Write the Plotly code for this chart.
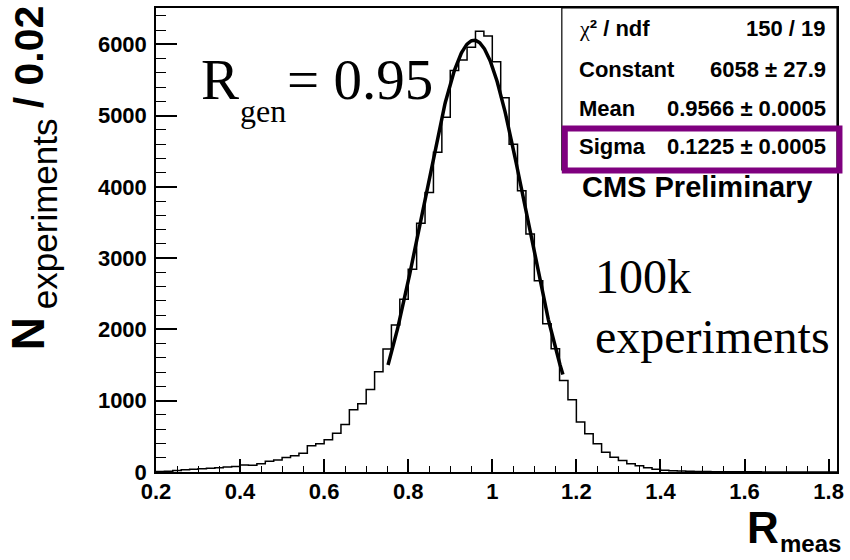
import numpy as np
import plotly.graph_objects as go

# ---------------- data ----------------
bin_start = 0.20
bin_width = 0.02
counts = [8, 12, 22, 32, 37, 46, 52, 60, 70, 76,
          97, 94, 117, 150, 170, 202, 228, 262, 370, 396,
          452, 542, 667, 873, 957, 1159, 1407, 1725, 2062, 2424,
          2846, 3490, 3923, 4485, 4977, 5632, 5782, 5960, 6184, 6118,
          5755, 5252, 4600, 3947, 3338, 2683, 2081, 1730, 1285, 1014,
          700, 536, 396, 278, 208, 161, 115, 87, 59, 38,
          24, 17, 13, 10, 8, 6, 5, 4, 3, 3,
          2, 2, 1, 1, 1, 0, 1, 0, 0, 0, 0]

fit_constant = 6058
fit_mean = 0.9566
fit_sigma = 0.1225
fit_range = [0.752, 1.168]

x_tickvals = [0.2, 0.4, 0.6, 0.8, 1.0, 1.2, 1.4, 1.6, 1.8]
x_ticktext = ["0.2", "0.4", "0.6", "0.8", "1", "1.2", "1.4", "1.6", "1.8"]
y_tickvals = [0, 1000, 2000, 3000, 4000, 5000, 6000]
y_ticktext = ["0", "1000", "2000", "3000", "4000", "5000", "6000"]

stat_labels = ['<span style="font-family:Liberation Serif;font-weight:normal">\u03c7</span>\u00b2 / ndf',
               "Constant", "Mean", "Sigma"]
stat_values = ["150 / 19", "6058 \u00b1 27.9", "0.9566 \u00b1 0.0005", "0.1225 \u00b1 0.0005"]

# ---------------- geometry ----------------
W, H = 850, 560
ML, MR, MT, MB = 156, 6, 8, 88
PW, PH = W - ML - MR, H - MT - MB


def px(x):
    return (x - ML) / PW


def py(y):
    return (H - MB - y) / PH


SANS = "Liberation Sans, Arial, Helvetica, sans-serif"
SERIF = "Liberation Serif, Times New Roman, serif"

edges = [round(bin_start + i * bin_width, 4) for i in range(len(counts) + 1)]
hist_y = counts + [counts[-1]]

fx = np.linspace(fit_range[0], fit_range[1], 300)
fy = fit_constant * np.exp(-0.5 * ((fx - fit_mean) / fit_sigma) ** 2)

fig = go.Figure()
fig.add_trace(go.Scatter(x=edges, y=hist_y, mode="lines", line_shape="hv",
                         line=dict(color="black", width=1.5), hoverinfo="skip"))
fig.add_trace(go.Scatter(x=fx, y=fy, mode="lines",
                         line=dict(color="black", width=3.5), hoverinfo="skip"))

tickfont = dict(family=SANS, size=22, color="black", weight="bold")

fig.update_layout(
    width=W, height=H,
    margin=dict(l=ML, r=MR, t=MT, b=MB, pad=0),
    paper_bgcolor="white", plot_bgcolor="white",
    showlegend=False,
    xaxis=dict(range=[0.2, 1.82], showline=True, mirror=True, linecolor="black", linewidth=1.5,
               ticks="inside", ticklen=13, tickwidth=1.5, tickcolor="black",
               tickvals=x_tickvals, ticktext=x_ticktext, tickfont=tickfont,
               ticklabelstandoff=-1,
               minor=dict(dtick=0.05, tick0=0.2, ticks="inside", ticklen=6, tickwidth=1.2, tickcolor="black"),
               showgrid=False, zeroline=False),
    yaxis=dict(range=[0, 6510], showline=True, mirror=True, linecolor="black", linewidth=1.5,
               ticks="inside", ticklen=21, tickwidth=1.5, tickcolor="black",
               tickvals=y_tickvals, ticktext=y_ticktext, tickfont=tickfont,
               ticklabelstandoff=3,
               minor=dict(dtick=200, tick0=0, ticks="inside", ticklen=10, tickwidth=1.2, tickcolor="black"),
               showgrid=False, zeroline=False),
)

shapes = []
# stats box
shapes.append(dict(type="rect", xref="paper", yref="paper",
                   x0=px(566), x1=px(844), y0=py(8), y1=py(170),
                   line=dict(color="black", width=1.2), fillcolor="white", layer="above"))
# purple highlight
shapes.append(dict(type="rect", xref="paper", yref="paper",
                   x0=px(569), x1=px(846.5), y0=py(128.5), y1=py(170.5),
                   line=dict(color="#7f007f", width=6), fillcolor="rgba(0,0,0,0)", layer="above"))
fig.update_layout(shapes=shapes)

anns = []


def ann(text, x, y, size, family=SANS, xanchor="left", bold=False, angle=0):
    anns.append(dict(text=text, x=px(x), y=py(y), xref="paper", yref="paper",
                     xanchor=xanchor, yanchor="middle", showarrow=False, textangle=angle,
                     font=dict(family=family, size=size, color="black",
                               weight="bold" if bold else "normal"),
                     borderpad=0))


# stats rows
rows_y = [29, 69, 109, 147]
for lab, val, yy in zip(stat_labels, stat_values, rows_y):
    ann(lab, 582, yy, 22, bold=True)
    ann(val, 834, yy, 22, xanchor="right", bold=True)

ann("CMS Preliminary", 703, 187, 29, xanchor="center", bold=True)

# R_gen = 0.95
ann("R", 200, 79, 57, family=SERIF)
ann("gen", 240, 111, 32, family=SERIF)
ann("= 0.95", 287, 79, 57, family=SERIF)

# 100k experiments
ann("100k", 598, 277, 48, family=SERIF)
ann("experiments", 598, 336, 48, family=SERIF)

# y-axis title (rotated pieces)
ann("N", 27, 334, 46, xanchor="center", bold=True, angle=-90)
ann("experiments", 43, 214, 35, xanchor="center", angle=-90)
ann("/ 0.02", 28, 57, 41, xanchor="center", bold=True, angle=-90)

# x-axis title
ann("R", 752, 527, 44, bold=True)
ann("meas", 785, 543, 24, bold=True)

fig.update_layout(annotations=anns)

fig.write_html("out.html")
